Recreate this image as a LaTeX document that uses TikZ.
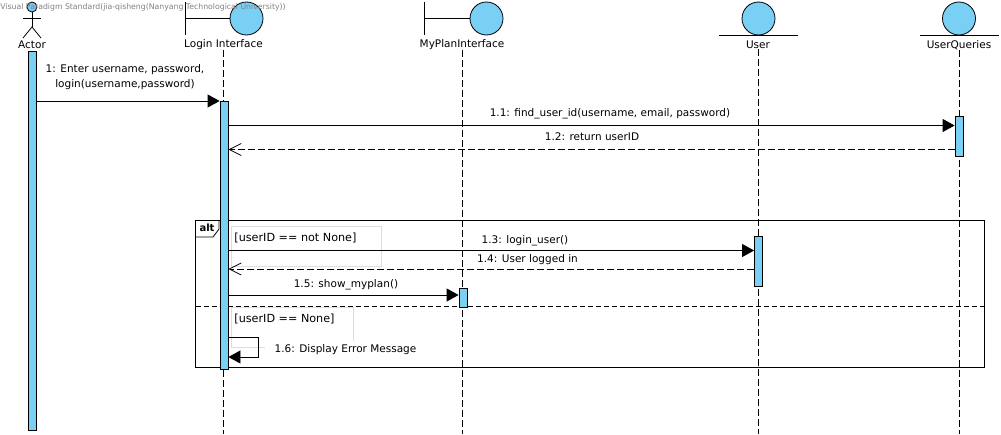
\documentclass[tikz,border=0pt]{standalone}
\usepackage{fontspec}
\setmainfont{DejaVu Sans}
\usepackage{xcolor}
\usetikzlibrary{arrows.meta}
\usetikzlibrary{calc}
\definecolor{barblue}{HTML}{7ACFF5}
\definecolor{guardgrey}{HTML}{DDDDDD}
\begin{document}
\begin{tikzpicture}[x=1pt,y=-1pt,>=Triangle,semithick,line width=0.8pt]
	\tikzstyle{every node}=[font=\fontsize{10.5}{15}\selectfont, text=black, inner sep=0pt]
	\tikzstyle{head}=[circle, draw=black, fill=barblue, minimum size=33pt]
	\tikzstyle{activation}=[rectangle, draw=black, fill=barblue, minimum width=8pt, anchor=north]
	\tikzstyle{lifeline}=[dash pattern=on 7pt off 3pt]
	\tikzstyle{call}=[-{Triangle[length=12pt,width=13pt]}]
	\tikzstyle{reply}=[dash pattern=on 7pt off 3pt,-{Straight Barb[length=12pt,width=12pt]}]
	\tikzstyle{guard}=[draw=guardgrey, line width=0.7pt]
	\useasboundingbox (0,0) rectangle (1001,434);

	% lifeline names
	\node (actorname) at (32,45) {Actor};
	\node (loginname) at (223.5,45) {Login Interface};
	\node (planname) at (462,45) {MyPlanInterface};
	\node (username) at (758,45) {User};
	\node (queriesname) at (959,45) {UserQueries};

	\coordinate (loginend) at (223.5,434);
	\coordinate (planend) at (462,434);
	\coordinate (userend) at (758,434);
	\coordinate (queriesend) at (959,434);
	\draw[lifeline] (loginname.south) -- (loginend);
	\draw[lifeline] (planname.south) -- (planend);
	\draw[lifeline] (username.south) -- (userend);
	\draw[lifeline] (queriesname.south) -- (queriesend);

	% alt frame
	\draw (195.5,220) rectangle (984,367);
	\coordinate (altleft) at (195.5,306);
	\coordinate (altright) at (984,306);
	\draw[dash pattern=on 5pt off 3pt] (altleft) -- (altright);
	\draw (195.5,237) -- (213,237) -- (219,229) -- (219,220);
	\node[font=\fontsize{10}{12}\selectfont\bfseries] (alttag) at (207,228) {alt};

	% guards
	\draw[guard] (231,226) rectangle (381,266);
	\draw[guard] (231,307) rectangle (353,347);
	\node[anchor=west, font=\fontsize{11.2}{15}\selectfont] (guardone) at (234,238) {[userID == not None]};
	\node[anchor=west, font=\fontsize{11.2}{15}\selectfont] (guardtwo) at (234,319) {[userID == None]};

	% activations
	\node[activation, minimum height=379pt] (actorbar) at (32.5,51) {};
	\node[activation, minimum height=268pt] (loginbar) at (224,101) {};
	\node[activation, minimum height=40pt] (queriesbar) at (959,116) {};
	\node[activation, minimum height=50pt] (userbar) at (758.5,236) {};
	\node[activation, minimum height=19pt] (planbar) at (463,288) {};

	% heads
	\node[head] (loginhead) at (246.5,18.5) {};
	\node[head] (planhead) at (486.5,18.5) {};
	\node[head] (userhead) at (758.5,18.5) {};
	\node[head] (querieshead) at (959,18.5) {};
	\coordinate (loginbartop) at (185,2);
	\coordinate (loginbarlow) at (185,35);
	\coordinate (planbartop) at (424,2);
	\coordinate (planbarlow) at (424,35);
	\draw (loginbartop) -- (loginbarlow);
	\draw (loginbartop |- loginhead) -- (loginhead.west);
	\draw (planbartop) -- (planbarlow);
	\draw (planbartop |- planhead) -- (planhead.west);
	\coordinate (groundy) at (0,35);
	\draw ($(userhead.center |- groundy)+(-39.5,0)$) -- ($(userhead.center |- groundy)+(39.5,0)$);
	\draw ($(querieshead.center |- groundy)+(-39.5,0)$) -- ($(querieshead.center |- groundy)+(39.5,0)$);

	% actor
	\node[circle, draw=black, fill=barblue, minimum size=10pt] (actorhead) at (32,7) {};
	\coordinate (hip) at (32,27);
	\draw (actorhead.south) -- (hip);
	\draw (23,18) -- (41,18);
	\draw (23,38) -- (hip) -- (41,38);

	% messages
	\coordinate (m1) at (0,101);
	\coordinate (m11) at (0,125.5);
	\coordinate (m12) at (0,149.5);
	\coordinate (m13) at (0,250.5);
	\coordinate (m14) at (0,269);
	\coordinate (m15) at (0,295);
	\coordinate (m16a) at (0,337);
	\coordinate (m16b) at (258.5,357);
	\draw[call] (actorbar.east |- m1) -- (loginbar.west |- m1);
	\draw[call] (loginbar.east |- m11) -- (queriesbar.west |- m11);
	\draw[reply] (queriesbar.west |- m12) -- (loginbar.east |- m12);
	\draw[call] (loginbar.east |- m13) -- (userbar.west |- m13);
	\draw[reply] (userbar.west |- m14) -- (loginbar.east |- m14);
	\draw[call] (loginbar.east |- m15) -- (planbar.west |- m15);
	\draw[call] (loginbar.east |- m16a) -- (m16b |- m16a) -- (m16b) -- (loginbar.east |- m16b);

	% message labels
	\node[align=center] (l1) at (125,77) {1: Enter username, password,\\login(username,password)};
	\node (l11) at (610,114) {1.1: find\_user\_id(username, email, password)};
	\node (l12) at (592,137) {1.2: return userID};
	\node (l13) at (525,241) {1.3: login\_user()};
	\node (l14) at (527.5,260) {1.4: User logged in};
	\node (l15) at (346,285) {1.5: show\_myplan()};
	\node[fill=white, inner xsep=10pt, inner ysep=4pt] (l16) at (345.5,350) {1.6: Display Error Message};

	% watermark
	\node[anchor=west, text=gray, font=\fontsize{7.75}{9}\selectfont] (mark) at (0,7) {Visual Paradigm Standard(jia-qisheng(Nanyang Technological University))};
\end{tikzpicture}
\end{document}
